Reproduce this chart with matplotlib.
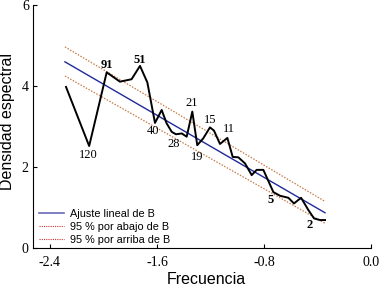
import matplotlib
matplotlib.use("Agg")
import matplotlib.pyplot as plt
from matplotlib.lines import Line2D

# Spectral density trace
freq = [-2.28, -2.107, -1.976, -1.877, -1.79, -1.727, -1.672, -1.615, -1.565, -1.528,
        -1.49, -1.458, -1.415, -1.378, -1.336, -1.299, -1.254, -1.204, -1.174, -1.129,
        -1.074, -1.034, -0.992, -0.942, -0.892, -0.855, -0.805, -0.73, -0.68, -0.618,
        -0.576, -0.523, -0.469, -0.426, -0.381, -0.344]
dens = [3.98, 2.52, 4.34, 4.11, 4.17, 4.50, 4.09, 3.09, 3.41, 3.08,
        2.87, 2.81, 2.83, 2.75, 3.37, 2.54, 2.71, 2.98, 2.90, 2.57,
        2.72, 2.25, 2.24, 2.09, 1.80, 1.93, 1.93, 1.38, 1.29, 1.24,
        1.10, 1.24, 0.94, 0.73, 0.69, 0.69]

# Linear fit and 95% bands (endpoints)
fit_x = [-2.288, -0.344]
fit_y = [4.60, 0.87]
upper_y = [4.97, 1.15]
lower_y = [4.25, 0.61]

# Period annotations
ann_text = ["91", "51", "120", "40", "28", "21", "19", "15", "11", "5", "2"]
ann_x = [-1.976, -1.727, -2.113, -1.632, -1.477, -1.341, -1.299, -1.199, -1.062, -0.748, -0.461]
ann_y = [4.52, 4.65, 2.29, 2.88, 2.58, 3.58, 2.26, 3.17, 2.94, 1.18, 0.57]
ann_bold = [True, True, False, False, False, False, False, False, False, True, True]

legend_labels = ["Ajuste lineal de B", "95 % por abajo de B", "95 % por arriba de B"]
xticks = [-2.4, -1.6, -0.8, 0.0]
xtick_labels = ["-2.4", "-1.6", "-0.8", "0.0"]
yticks = [0, 2, 4, 6]

fig = plt.figure(figsize=(3.79, 2.88), dpi=100)
ax = fig.add_axes([0.087, 0.139, 0.892, 0.843])

ax.plot(fit_x, upper_y, color="#c87a4a", lw=0.9, ls=(0, (1.2, 1.2)), zorder=2)
ax.plot(fit_x, lower_y, color="#c87a4a", lw=0.9, ls=(0, (1.2, 1.2)), zorder=2)
ax.plot(fit_x, fit_y, color="#1f2a9a", lw=1.0, zorder=3)
ax.plot(freq, dens, color="black", lw=1.4, zorder=4)

handles = [
    Line2D([], [], color="#6a6ab8", lw=1.2),
    Line2D([], [], color="#cc3333", lw=0.8, ls=(0, (1, 1))),
    Line2D([], [], color="#cc3333", lw=0.8, ls=(0, (1, 1))),
]
ax.legend(handles, legend_labels, loc="lower left", bbox_to_anchor=(0.0, -0.015),
          frameon=False, handlelength=2.3, handletextpad=0.5,
          labelspacing=0.3, borderaxespad=0.2,
          prop={"family": "Liberation Sans", "size": 7.8})

for t, x, y, b in zip(ann_text, ann_x, ann_y, ann_bold):
    ax.text(x, y, t, ha="center", va="center", family="Liberation Serif",
            fontsize=9, fontweight="bold" if b else "normal", zorder=5)

ax.set_xlim(-2.527, 0.0)
ax.set_ylim(0, 6)
ax.set_xticks(xticks)
ax.set_xticklabels(xtick_labels)
ax.set_yticks(yticks)
for lab in ax.get_xticklabels() + ax.get_yticklabels():
    lab.set_family("Liberation Serif")
    lab.set_fontsize(10)
ax.tick_params(axis="x", direction="in", length=3, width=0.8, pad=6)
ax.tick_params(axis="y", direction="in", length=3, width=0.8, pad=3)
ax.spines["top"].set_visible(False)
ax.spines["right"].set_visible(False)
ax.spines["left"].set_bounds(0, 6)

fig.text(206 / 379, 1 - 279 / 288, "Frecuencia", family="Liberation Sans",
         fontsize=11.5, ha="center", va="center")
fig.text(8 / 379, 1 - 121 / 288, "Densidad espectral", family="Liberation Sans",
         fontsize=11.5, ha="center", va="center", rotation=90)

fig.savefig("out.png", dpi=100)
